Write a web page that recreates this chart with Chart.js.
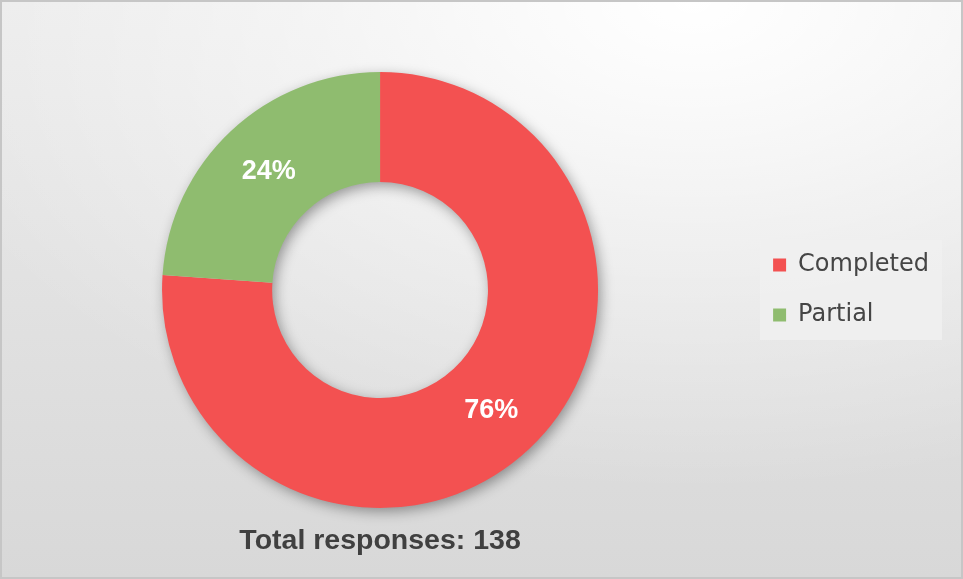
<!DOCTYPE html>
<html>
<head>
<meta charset="utf-8">
<script src="https://cdn.jsdelivr.net/npm/chart.js@4/dist/chart.umd.min.js"></script>
<style>
  html, body { margin: 0; padding: 0; background: #fff; }
  #wrap {
    width: 963px;
    height: 579px;
    box-sizing: border-box;
    border: 2px solid #c6c6c6;
    background:
      radial-gradient(ellipse 85% 85% at 72% 0%, rgba(255,255,255,1) 0%, rgba(255,255,255,0.5) 45%, rgba(255,255,255,0) 100%),
      linear-gradient(to bottom, #ebebeb, #d8d8d8);
  }
  canvas { display: block; }
</style>
</head>
<body>
<div id="wrap">
  <canvas id="chart" width="959" height="575"></canvas>
</div>
<script>
const categories = ["Completed", "Partial"];
const responses = [105, 33];
const sliceColors = ["#F35151", "#8FBC6F"];
const titleText = "Total responses: ";

const total = responses.reduce((a, b) => a + b, 0);

// soft shadow under the ring, drawn once so slices don't shade each other
const ringShadow = {
  id: "ringShadow",
  beforeDatasetsDraw(chart) {
    const arc = chart.getDatasetMeta(0).data[0];
    if (!arc) return;
    const ctx = chart.ctx;
    ctx.save();
    ctx.shadowColor = "rgba(0,0,0,0.4)";
    ctx.shadowBlur = 14;
    ctx.shadowOffsetX = 3;
    ctx.shadowOffsetY = 4;
    ctx.fillStyle = "#d0d0d0";
    ctx.beginPath();
    ctx.arc(arc.x, arc.y, arc.outerRadius - 1, 0, Math.PI * 2);
    ctx.arc(arc.x, arc.y, arc.innerRadius + 1, 0, Math.PI * 2, true);
    ctx.fill("evenodd");
    ctx.restore();
  }
};

const sliceLabels = {
  id: "sliceLabels",
  afterDatasetsDraw(chart) {
    const ctx = chart.ctx;
    const meta = chart.getDatasetMeta(0);
    ctx.save();
    ctx.fillStyle = "#ffffff";
    ctx.font = "bold 27px 'Liberation Sans', Arial, sans-serif";
    ctx.textAlign = "center";
    ctx.textBaseline = "middle";
    meta.data.forEach((el, i) => {
      const p = el.getCenterPoint();
      const pct = Math.round(responses[i] / total * 100) + "%";
      ctx.fillText(pct, p.x, p.y + 1);
    });
    ctx.restore();
  }
};

const legendBack = {
  id: "legendBack",
  beforeDraw(chart) {
    const lg = chart.legend;
    if (!lg) return;
    const ctx = chart.ctx;
    const midY = (lg.top + lg.bottom) / 2;
    ctx.save();
    ctx.fillStyle = "rgba(240,240,240,0.85)";
    ctx.fillRect(lg.left + 13, midY - 50, lg.width - 10, 100);
    ctx.restore();
  }
};

const bottomTitle = {
  id: "bottomTitle",
  afterDraw(chart) {
    const ctx = chart.ctx;
    const area = chart.chartArea;
    ctx.save();
    ctx.fillStyle = "#404040";
    ctx.font = "bold 28.5px 'Liberation Sans', Arial, sans-serif";
    ctx.textAlign = "center";
    ctx.textBaseline = "alphabetic";
    ctx.fillText(titleText + total, (area.left + area.right) / 2, area.bottom + 41);
    ctx.restore();
  }
};

new Chart(document.getElementById("chart"), {
  type: "doughnut",
  data: {
    labels: categories,
    datasets: [{
      data: responses,
      backgroundColor: sliceColors,
      borderWidth: 0,
      hoverOffset: 0
    }]
  },
  options: {
    responsive: false,
    animation: false,
    cutout: "49.5%",
    layout: {
      padding: { top: 70, bottom: 69, left: 11, right: 22 }
    },
    plugins: {
      legend: {
        position: "right",
        align: "center",
        labels: {
          boxWidth: 13,
          boxHeight: 13,
          padding: 26,
          color: "#454545",
          font: { family: "'DejaVu Sans', sans-serif", size: 24 }
        }
      },
      tooltip: { enabled: false }
    }
  },
  plugins: [legendBack, ringShadow, sliceLabels, bottomTitle]
});
</script>
</body>
</html>
